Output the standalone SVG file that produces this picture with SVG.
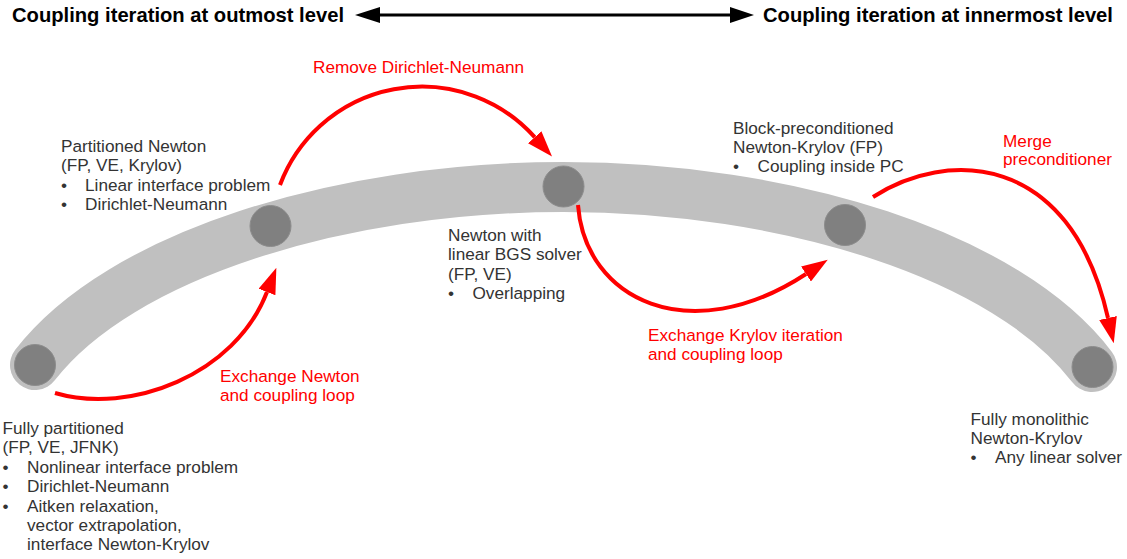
<svg xmlns="http://www.w3.org/2000/svg" width="1127" height="559" viewBox="0 0 1127 559">
<defs>
<style>
.hdr{font-family:"Liberation Sans",Arial,sans-serif;font-weight:bold;font-size:20.2px;fill:#000}
.t{font-family:"Liberation Sans",Arial,sans-serif;font-size:17.2px;fill:#333}
.r{font-family:"Liberation Sans",Arial,sans-serif;font-size:17.2px;fill:#ff0000}
.band{fill:none;stroke:#c0c0c0;stroke-width:50;stroke-linecap:round}
.node{fill:#808080;stroke:#8c8c8c;stroke-width:1}
.red{fill:none;stroke:#ff0000;stroke-width:4}
</style>
<marker id="rh" markerUnits="userSpaceOnUse" markerWidth="26" markerHeight="18" refX="0" refY="9" orient="auto">
<path d="M0,0 L26,9 L0,18 z" fill="#ff0000"/>
</marker>
<marker id="bh" markerUnits="userSpaceOnUse" markerWidth="24" markerHeight="16" refX="0" refY="8" orient="auto">
<path d="M0,0 L24,8 L0,16 z" fill="#000"/>
</marker>
</defs>

<g id="header">
<text class="hdr" x="12" y="22">Coupling iteration at outmost level</text>
<text class="hdr" x="763" y="22">Coupling iteration at innermost level</text>
</g>

<g id="band">
<path class="band" d="M35,365 C120,255 340,187 563.5,187 C787,187 1007,255 1092,367"/>
</g>

<g id="node-fully-partitioned">
<circle class="node" cx="35" cy="365" r="20.5"/>
<text class="t" x="2.5" y="434">Fully partitioned</text>
<text class="t" x="2.5" y="453.4">(FP, VE, JFNK)</text>
<text class="t" x="2.5" y="472.8">•</text><text class="t" x="27" y="472.8">Nonlinear interface problem</text>
<text class="t" x="2.5" y="492.2">•</text><text class="t" x="27" y="492.2">Dirichlet-Neumann</text>
<text class="t" x="2.5" y="511.6">•</text><text class="t" x="27" y="511.6">Aitken relaxation,</text>
<text class="t" x="27" y="531">vector extrapolation,</text>
<text class="t" x="27" y="550.4">interface Newton-Krylov</text>
</g>

<g id="node-partitioned-newton">
<circle class="node" cx="270.5" cy="226" r="20.5"/>
<text class="t" x="61" y="152">Partitioned Newton</text>
<text class="t" x="61" y="171.4">(FP, VE, Krylov)</text>
<text class="t" x="61" y="190.8">•</text><text class="t" x="85" y="190.8">Linear interface problem</text>
<text class="t" x="61" y="210.2">•</text><text class="t" x="85" y="210.2">Dirichlet-Neumann</text>
</g>

<g id="node-newton-bgs">
<circle class="node" cx="563.5" cy="186.5" r="20.5"/>
<text class="t" x="448" y="241">Newton with</text>
<text class="t" x="448" y="260.4">linear BGS solver</text>
<text class="t" x="448" y="279.8">(FP, VE)</text>
<text class="t" x="448" y="299.2">•</text><text class="t" x="472.5" y="299.2">Overlapping</text>
</g>

<g id="node-block-precond">
<circle class="node" cx="845" cy="225" r="20.5"/>
<text class="t" x="733" y="133.5">Block-preconditioned</text>
<text class="t" x="733" y="152.9">Newton-Krylov (FP)</text>
<text class="t" x="733" y="172.3">•</text><text class="t" x="757.5" y="172.3">Coupling inside PC</text>
</g>

<g id="node-monolithic">
<circle class="node" cx="1092.5" cy="367" r="20.5"/>
<text class="t" x="970.5" y="424.5">Fully monolithic</text>
<text class="t" x="970.5" y="443.9">Newton-Krylov</text>
<text class="t" x="970.5" y="463.3">•</text><text class="t" x="995" y="463.3">Any linear solver</text>
</g>

<g id="connectors">
<line x1="376" y1="15" x2="730" y2="15" stroke="#000" stroke-width="3" marker-end="url(#bh)"/>
<path d="M380,7 L355,15 L380,23 z" fill="#000"/>
<path class="red" d="M55,393 C130,415 235,375 267,292" marker-end="url(#rh)"/>
<path class="red" d="M280,185 A151.4,151.4 0 0 1 534.7,137.2" marker-end="url(#rh)"/>
<path class="red" d="M578,205 C585,300 690,350 806,274" marker-end="url(#rh)"/>
<path class="red" d="M873,197 C945,150 1070,150 1108,318" marker-end="url(#rh)"/>
</g>

<g id="labels">
<text class="r" x="313" y="72.5">Remove Dirichlet-Neumann</text>
<text class="r" x="220" y="382">Exchange Newton</text>
<text class="r" x="220" y="401">and coupling loop</text>
<text class="r" x="648" y="341">Exchange Krylov iteration</text>
<text class="r" x="648" y="359.5">and coupling loop</text>
<text class="r" x="1003" y="146.5">Merge</text>
<text class="r" x="1003" y="165">preconditioner</text>
</g>
</svg>
